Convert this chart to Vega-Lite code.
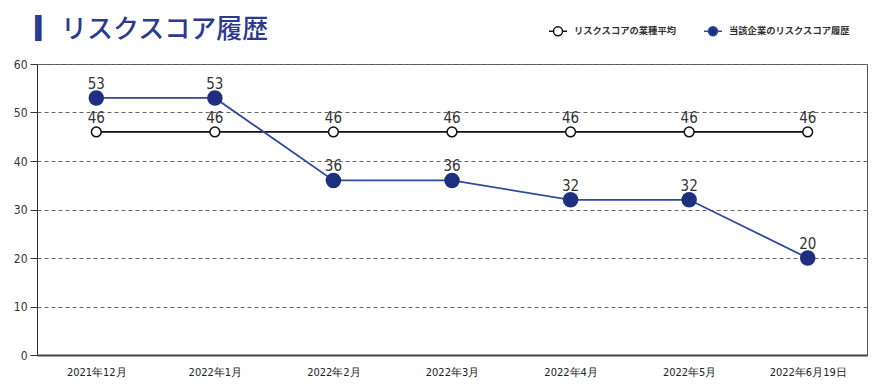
{
  "$schema": "https://vega.github.io/schema/vega-lite/v6.json",
  "width": 830,
  "height": 291,
  "autosize": {"type": "none"},
  "padding": {"left": 37, "top": 64, "right": 13, "bottom": 29},
  "background": "white",
  "title": {
    "text": "▎リスクスコア履歴",
    "anchor": "start",
    "frame": "group",
    "font": "Noto Sans CJK JP",
    "fontSize": 26,
    "fontWeight": 500,
    "color": "#2b3a8f",
    "dx": -2,
    "offset": -22
  },
  "config": {
    "view": {"stroke": "#555555", "strokeWidth": 1},
    "font": "Liberation Sans Narrow, DejaVu Sans Condensed, sans-serif"
  },
  "data": {
    "values": [
      {"month": "2021年12月", "series": "リスクスコアの業種平均", "value": 46},
      {"month": "2022年1月", "series": "リスクスコアの業種平均", "value": 46},
      {"month": "2022年2月", "series": "リスクスコアの業種平均", "value": 46},
      {"month": "2022年3月", "series": "リスクスコアの業種平均", "value": 46},
      {"month": "2022年4月", "series": "リスクスコアの業種平均", "value": 46},
      {"month": "2022年5月", "series": "リスクスコアの業種平均", "value": 46},
      {"month": "2022年6月19日", "series": "リスクスコアの業種平均", "value": 46},
      {"month": "2021年12月", "series": "当該企業のリスクスコア履歴", "value": 53},
      {"month": "2022年1月", "series": "当該企業のリスクスコア履歴", "value": 53},
      {"month": "2022年2月", "series": "当該企業のリスクスコア履歴", "value": 36},
      {"month": "2022年3月", "series": "当該企業のリスクスコア履歴", "value": 36},
      {"month": "2022年4月", "series": "当該企業のリスクスコア履歴", "value": 32},
      {"month": "2022年5月", "series": "当該企業のリスクスコア履歴", "value": 32},
      {"month": "2022年6月19日", "series": "当該企業のリスクスコア履歴", "value": 20}
    ]
  },
  "encoding": {
    "x": {
      "field": "month",
      "type": "ordinal",
      "sort": ["2021年12月", "2022年1月", "2022年2月", "2022年3月", "2022年4月", "2022年5月", "2022年6月19日"],
      "scale": {"type": "point", "padding": 0.5},
      "axis": {
        "title": null,
        "labelAngle": 0,
        "ticks": false,
        "domainColor": "#444444",
        "domainWidth": 2,
        "labelPadding": 11,
        "labelFontSize": 11,
        "labelColor": "#222222",
        "labelFont": "Liberation Sans Narrow, DejaVu Sans Condensed, sans-serif"
      }
    },
    "y": {
      "field": "value",
      "type": "quantitative",
      "scale": {"domain": [0, 60], "nice": false},
      "axis": {
        "title": null,
        "values": [0, 10, 20, 30, 40, 50, 60],
        "grid": true,
        "gridColor": "#666666",
        "gridDash": [4, 3],
        "gridWidth": 1,
        "domainColor": "#333333",
        "tickColor": "#333333",
        "tickSize": 7,
        "labelPadding": 3,
        "labelFontSize": 12,
        "labelColor": "#333333"
      }
    }
  },
  "layer": [
    {
      "mark": {"type": "line", "strokeWidth": 1.8},
      "encoding": {
        "color": {
          "field": "series",
          "type": "nominal",
          "scale": {
            "domain": ["リスクスコアの業種平均", "当該企業のリスクスコア履歴"],
            "range": ["#111111", "#2d4b9c"]
          },
          "legend": {
            "title": null,
            "orient": "none",
            "legendX": 511,
            "legendY": -43,
            "direction": "horizontal",
            "symbolType": "M-1,0H-0.5M0.5,0H1M-0.5,0A0.5,0.5,0,1,1,0.5,0A0.5,0.5,0,1,1,-0.5,0Z",
            "symbolSize": 324,
            "symbolStrokeWidth": 1.5,
            "labelFont": "Noto Sans CJK JP",
            "labelFontSize": 9.3,
            "labelFontWeight": 600,
            "labelColor": "#333333",
            "labelOffset": 6,
            "columnPadding": 24,
            "encode": {
              "symbols": {
                "update": {
                  "fill": {"signal": "datum.value === 'リスクスコアの業種平均' ? '#ffffff' : '#1e2f80'"},
                  "stroke": {"signal": "datum.value === 'リスクスコアの業種平均' ? '#111111' : '#1e2f80'"},
                  "fillOpacity": {"value": 1}
                }
              }
            }
          }
        }
      }
    },
    {
      "transform": [{"filter": "datum.series === 'リスクスコアの業種平均'"}],
      "mark": {"type": "point", "filled": true, "fill": "#ffffff", "stroke": "#111111", "strokeWidth": 1.5, "size": 95, "opacity": 1}
    },
    {
      "transform": [{"filter": "datum.series === '当該企業のリスクスコア履歴'"}],
      "mark": {"type": "point", "filled": true, "fill": "#1e2f80", "size": 240, "opacity": 1}
    },
    {
      "mark": {"type": "text", "dy": -14, "fontSize": 15, "color": "#333333", "font": "Liberation Sans Narrow, DejaVu Sans Condensed, sans-serif"},
      "encoding": {"text": {"field": "value", "type": "quantitative"}}
    }
  ]
}
